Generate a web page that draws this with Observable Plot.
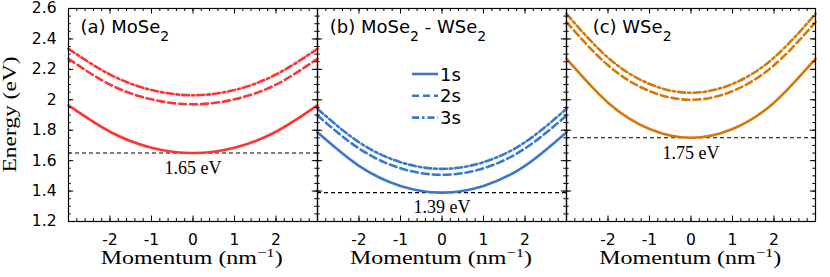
<!DOCTYPE html>
<html><head><meta charset="utf-8">
<script src="https://cdn.jsdelivr.net/npm/d3@7"></script>
<script src="https://cdn.jsdelivr.net/npm/@observablehq/plot@0.6"></script>
<style>body{margin:0;background:#fff}</style>
</head><body><div id="chart"></div>
<script>
// ---- data ----
const panels = ["a", "b", "c"];
const panelColors = ["#ff3333", "#3b78cc", "#d4780c"];
const states = ["1s", "2s", "3s"];
const momentum = [-3, -2, -1, 0, 1, 2, 3];
const mose2_1s  = [1.963, 1.79, 1.685, 1.65, 1.685, 1.79, 1.963];
const mose2_2s  = [2.27, 2.10, 2.003, 1.97, 2.003, 2.10, 2.27];
const mose2_3s  = [2.335, 2.166, 2.064, 2.03, 2.064, 2.166, 2.335];
const hetero_1s = [1.787, 1.566, 1.434, 1.39, 1.434, 1.566, 1.787];
const hetero_2s = [1.897, 1.68, 1.55, 1.507, 1.55, 1.68, 1.897];
const hetero_3s = [1.941, 1.721, 1.59, 1.546, 1.59, 1.721, 1.941];
const wse2_1s   = [2.27, 1.981, 1.808, 1.75, 1.808, 1.981, 2.27];
const wse2_2s   = [2.51, 2.227, 2.057, 2.0, 2.057, 2.227, 2.51];
const wse2_3s   = [2.565, 2.277, 2.104, 2.046, 2.104, 2.277, 2.565];
const excitonMinima = [1.65, 1.39, 1.75];
const minimaLabels = ["1.65 eV", "1.39 eV", "1.75 eV"];
const panelTitles = [
  [["(a) MoSe", 0], ["2", 1]],
  [["(b) MoSe", 0], ["2", 1], [" - WSe", 0], ["2", 1]],
  [["(c) WSe", 0], ["2", 1]]
];
const xTicks = [-2, -1, 0, 1, 2];
const xTickLabels = ["-2", "-1", "0", "1", "2"];
const yTicks = [1.2, 1.4, 1.6, 1.8, 2, 2.2, 2.4, 2.6];
const yTickLabels = ["1.2", "1.4", "1.6", "1.8", "2", "2.2", "2.4", "2.6"];
const xLabel = "Momentum (nm";
const yLabel = "Energy (eV)";

// ---- build tables ----
const seriesByPanel = [
  [mose2_1s, mose2_2s, mose2_3s],
  [hetero_1s, hetero_2s, hetero_3s],
  [wse2_1s, wse2_2s, wse2_3s]
];
const rows = [];
panels.forEach((p, i) => states.forEach((s, j) => seriesByPanel[i][j].forEach((e, n) =>
  rows.push({panel: p, state: s, k: momentum[n], e}))));
const minRows = panels.map((p, i) => {
  const s = seriesByPanel[i][0];
  const n = s.indexOf(d3.min(s));
  return {panel: p, k: momentum[n], e: excitonMinima[i], label: minimaLabels[i]};
});
const xMinor = d3.range(-3, 3.0001, 0.2);
const yMinor = d3.range(1.2, 2.6001, 0.05);
const dashes = {"1s": null, "2s": "7,4", "3s": "7,3,2.5,3"};

const W = 830, H = 277, mL = 67, mR = 15, mT = 8, mB = 56;
const ph = H - mT - mB;
const pw = (W - mL - mR) / 3;
const tickMarks = [];
for (const [ticks, len] of [[xMinor, 3], [xTicks, 5.5]]) {
  tickMarks.push(Plot.tickX(ticks, {x: d => d, insetTop: ph - len, stroke: "#000", strokeWidth: 1}));
  tickMarks.push(Plot.tickX(ticks, {x: d => d, insetBottom: ph - len, stroke: "#000", strokeWidth: 1}));
}
for (const [ticks, len] of [[yMinor, 3], [yTicks, 5.5]]) {
  tickMarks.push(Plot.tickY(ticks, {y: d => d, insetRight: pw - len, stroke: "#000", strokeWidth: 1}));
  tickMarks.push(Plot.tickY(ticks, {y: d => d, insetLeft: pw - len, stroke: "#000", strokeWidth: 1}));
}

const chart = Plot.plot({
  width: W, height: H,
  marginLeft: mL, marginRight: mR, marginTop: mT, marginBottom: mB,
  style: {fontFamily: "'DejaVu Sans', sans-serif", fontSize: "15.5px", color: "#000", background: "#fff"},
  fx: {domain: panels, padding: 0, axis: null},
  x: {domain: [-3, 3]},
  y: {domain: [1.2, 2.6]},
  color: {domain: panels, range: panelColors},
  marks: [
    Plot.ruleY(minRows, {fx: "panel", y: "e", stroke: "#000", strokeWidth: 1.1, strokeDasharray: "4,3"}),
    ...states.map(s => Plot.line(rows.filter(d => d.state === s), {
      fx: "panel", x: "k", y: "e", stroke: "panel", strokeWidth: 2.6,
      strokeDasharray: dashes[s], curve: "natural"
    })),
    Plot.text(minRows, {fx: "panel", x: "k", y: "e", text: "label", dy: 15,
      fontFamily: "'Liberation Serif', serif", fontSize: 18, fill: "#000", ariaLabel: "minlabel"}),
    ...tickMarks,
    Plot.axisX({anchor: "bottom", ticks: xTicks, tickSize: 0, tickPadding: 12,
      tickFormat: d => xTickLabels[xTicks.indexOf(d)], label: null}),
    Plot.axisY({anchor: "left", ticks: yTicks, tickSize: 0, tickPadding: 12,
      tickFormat: d => yTickLabels[yTicks.indexOf(d)], label: null}),
    Plot.frame({stroke: "#000", strokeWidth: 1.2})
  ]
});
document.getElementById("chart").appendChild(chart);

// ---- text decorations ----
const svg = d3.select(chart);
svg.selectAll('g[aria-label="minlabel"] text')
  .attr("textLength", 72).attr("lengthAdjust", "spacingAndGlyphs");

panelTitles.forEach((parts, i) => {
  const t = svg.append("text")
    .attr("x", mL + pw * i + (i === 2 ? 27 : 13.5)).attr("y", 32.5)
    .attr("text-anchor", "start")
    .attr("font-family", "'DejaVu Sans', sans-serif").attr("font-size", 18).attr("fill", "#000");
  let shifted = false;
  parts.forEach(([str, sub]) => {
    const ts = t.append("tspan").text(str);
    if (sub) { ts.attr("font-size", 14).attr("dy", 8); shifted = true; }
    else if (shifted) { ts.attr("dy", -8); shifted = false; }
  });
});

// legend in panel (b)
const lg = svg.append("g").attr("font-family", "'DejaVu Sans', sans-serif").attr("font-size", 18)
  .attr("text-anchor", "start");
states.forEach((s, j) => {
  const y = 74 + j * 21.8;
  lg.append("line").attr("x1", 412).attr("x2", 438).attr("y1", y).attr("y2", y)
    .attr("stroke", panelColors[1]).attr("stroke-width", 2.6)
    .attr("stroke-dasharray", dashes[s]);
  lg.append("text").attr("x", 440).attr("y", y + 6.5).attr("fill", "#000").text(s);
});

// axis titles
panels.forEach((p, i) => {
  const t = svg.append("text")
    .attr("x", mL + pw * (i + 0.5)).attr("y", 264).attr("text-anchor", "middle")
    .attr("font-family", "'Liberation Serif', serif").attr("font-size", 18).attr("fill", "#000")
    .attr("textLength", 182).attr("lengthAdjust", "spacingAndGlyphs");
  t.append("tspan").text(xLabel);
  t.append("tspan").attr("font-size", 12.5).attr("dy", -7).text("\u22121");
  t.append("tspan").attr("dy", 7).text(")");
});
svg.append("text")
  .attr("transform", `translate(16,${(mT + H - mB) / 2}) rotate(-90)`)
  .attr("text-anchor", "middle")
  .attr("font-family", "'Liberation Serif', serif").attr("font-size", 18).attr("fill", "#000")
  .attr("textLength", 116).attr("lengthAdjust", "spacingAndGlyphs")
  .text(yLabel);
</script>
</body></html>
